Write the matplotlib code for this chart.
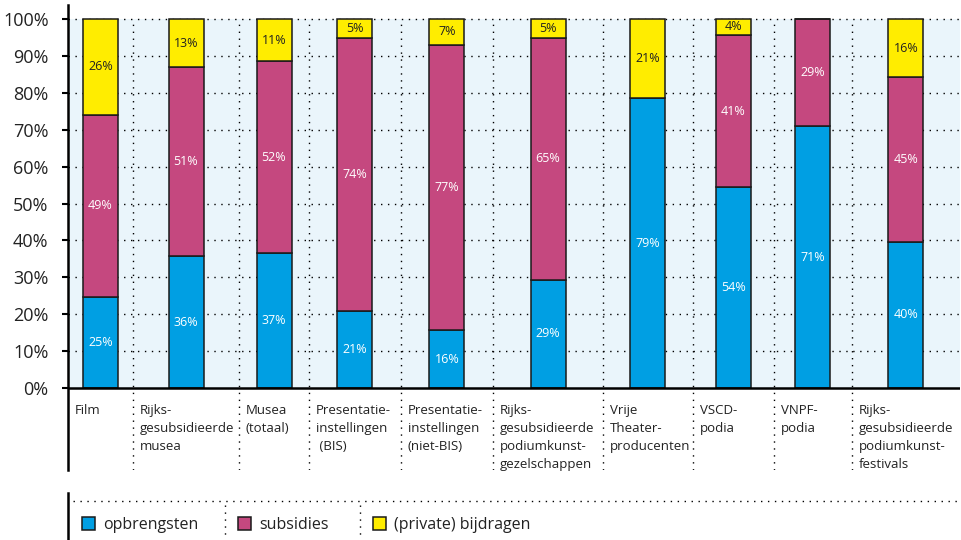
import matplotlib
matplotlib.use("Agg")
import matplotlib.pyplot as plt
from matplotlib.patches import Rectangle

plt.rcParams["font.family"] = ["Open Sans", "DejaVu Sans"]

# data (percentages per sector)
categories = [
    "Film",
    "Rijks-\ngesubsidieerde\nmusea",
    "Musea\n(totaal)",
    "Presentatie-\ninstellingen\n (BIS)",
    "Presentatie-\ninstellingen\n(niet-BIS)",
    "Rijks-\ngesubsidieerde\npodiumkunst-\ngezelschappen",
    "Vrije\nTheater-\nproducenten",
    "VSCD-\npodia",
    "VNPF-\npodia",
    "Rijks-\ngesubsidieerde\npodiumkunst-\nfestivals",
]
opbrengsten = [24.7, 35.8, 36.6, 20.9, 15.7, 29.4, 78.6, 54.4, 71.0, 39.6]
subsidies = [49.3, 51.2, 52.0, 74.0, 77.3, 65.4, 0.0, 41.3, 29.0, 44.6]
bijdragen = [26.0, 13.0, 11.4, 5.1, 7.0, 5.2, 21.4, 4.3, 0.0, 15.8]
series_names = ["opbrengsten", "subsidies", "(private) bijdragen"]
y_ticks = list(range(0, 101, 10))

# layout
CELL_WIDTHS = [65, 106, 70, 92, 92, 110, 90, 81, 78, 108]
BAR_WIDTH = 35
COLORS = ["#009fe3", "#c5487f", "#ffed00"]
TEXT_COLORS = ["white", "white", "#222222"]
BG = "#eaf5fb"
DOTS = (0, (1, 4))

fig = plt.figure(figsize=(9.62, 5.4), dpi=100)
ax = fig.add_axes([68 / 962, 70 / 540, 892 / 962, 465 / 540])

edges = [0]
for w in CELL_WIDTHS:
    edges.append(edges[-1] + w)
centers = [(edges[i] + edges[i + 1]) / 2 for i in range(len(CELL_WIDTHS))]
total = edges[-1]

ax.set_xlim(0, total)
ax.set_ylim(-22.2, 103.8)

ax.add_patch(Rectangle((0, 0), total, 100, facecolor=BG, edgecolor="none", zorder=0))
for y in y_ticks[1:]:
    ax.hlines(y, 0, total, colors="black", linestyles=DOTS, linewidth=1, zorder=1)
for x in edges[1:-1]:
    ax.vlines(x, -22.2, 100, colors="black", linestyles=DOTS, linewidth=1, zorder=1)

bottom = [0.0] * len(categories)
for values, color, tcolor in zip([opbrengsten, subsidies, bijdragen], COLORS, TEXT_COLORS):
    ax.bar(centers, values, BAR_WIDTH, bottom=bottom, color=color,
           edgecolor="#1a1a1a", linewidth=1.1, zorder=3)
    for xc, b, v in zip(centers, bottom, values):
        if v > 0:
            ax.text(xc, b + v / 2, f"{v:.0f}%", ha="center", va="center",
                    fontsize=9, color=tcolor, zorder=4)
    bottom = [b + v for b, v in zip(bottom, values)]

ax.axhline(0, color="black", linewidth=1.8, zorder=5)

for left, label in zip(edges[:-1], categories):
    ax.text(left + 7, -4.3, label, ha="left", va="top", fontsize=9.5,
            color="#222222", linespacing=1.5)

ax.set_xticks([])
ax.set_yticks(y_ticks)
ax.set_yticklabels([f"{v}%" for v in y_ticks], fontsize=13, color="#222222")
ax.tick_params(axis="y", length=4, width=1.5, pad=10)
for side in ["top", "right", "bottom"]:
    ax.spines[side].set_visible(False)
ax.spines["left"].set_linewidth(1.8)

# legend, drawn in pixel coordinates
lax = fig.add_axes([0, 0, 1, 1], facecolor="none")
lax.set_xlim(0, 962)
lax.set_ylim(540, 0)
lax.axis("off")
lax.plot([68, 68], [493, 540], color="black", linewidth=1.8)
lax.plot([73, 962], [501, 501], color="black", linestyle=DOTS, linewidth=1)
legend_x = [82, 238, 373]
for i, (name, color) in enumerate(zip(series_names, COLORS)):
    x0 = legend_x[i]
    lax.add_patch(Rectangle((x0, 517), 13, 13, facecolor=color,
                            edgecolor="#1a1a1a", linewidth=1.1))
    lax.text(x0 + 21, 525, name, ha="left", va="center", fontsize=11.5,
             color="#222222")
    if i > 0:
        lax.plot([x0 - 13, x0 - 13], [505, 540], color="black",
                 linestyle=DOTS, linewidth=1)

fig.savefig("out.png", dpi=100)
